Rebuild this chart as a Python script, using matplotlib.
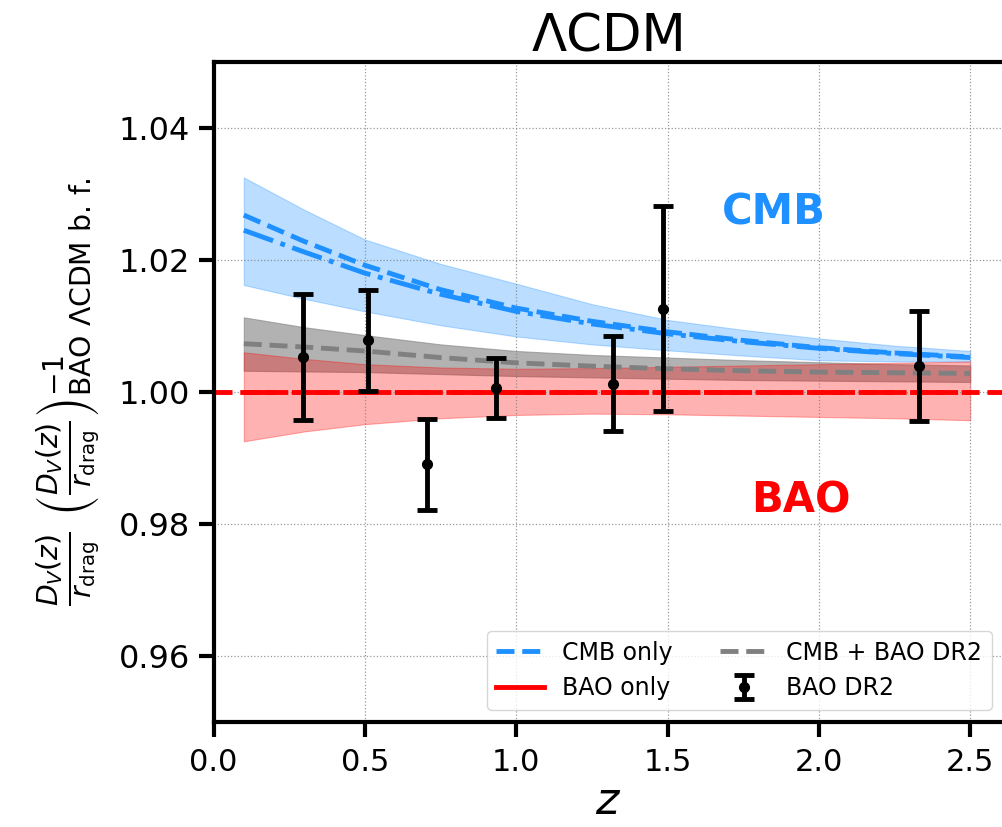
import matplotlib
matplotlib.use('Agg')
import matplotlib.pyplot as plt
from matplotlib.lines import Line2D

# 곡선 샘플 위치 (z)
z_grid = [0.1, 0.3, 0.5, 0.75, 1.0, 1.25, 1.5, 1.75, 2.0, 2.25, 2.5]

# CMB only
cmb_dash = [1.0268, 1.0228, 1.0192, 1.0155, 1.0127, 1.0107, 1.0091, 1.0078, 1.0067, 1.0059, 1.0053]
cmb_dashdot = [1.0245, 1.0212, 1.0180, 1.0148, 1.0122, 1.0103, 1.0088, 1.0076, 1.0066, 1.0058, 1.0052]
cmb_hi = [1.0325, 1.0276, 1.0231, 1.0194, 1.0164, 1.0133, 1.0109, 1.0094, 1.0081, 1.0070, 1.0062]
cmb_lo = [1.0162, 1.0141, 1.0122, 1.0101, 1.0084, 1.0072, 1.0063, 1.0055, 1.0048, 1.0046, 1.0046]

# CMB + BAO DR2
comb_mid = [1.0073, 1.0068, 1.0062, 1.0052, 1.0044, 1.0039, 1.0035, 1.0032, 1.0030, 1.0029, 1.0028]
comb_hi = [1.0113, 1.0098, 1.0086, 1.0072, 1.0062, 1.0056, 1.0052, 1.0048, 1.0045, 1.0042, 1.0040]
comb_lo = [1.0032, 1.0031, 1.0030, 1.0027, 1.0024, 1.0022, 1.0020, 1.0018, 1.0017, 1.0016, 1.0015]

# BAO only
bao_mid = [1.0000, 1.0000, 1.0000, 1.0000, 1.0000, 1.0000, 1.0000, 1.0000, 1.0000, 1.0000, 1.0000]
bao_hi = [1.0060, 1.0050, 1.0042, 1.0037, 1.0035, 1.0036, 1.0038, 1.0040, 1.0042, 1.0044, 1.0046]
bao_lo = [0.9925, 0.9940, 0.9951, 0.9960, 0.9965, 0.9967, 0.9966, 0.9964, 0.9962, 0.9960, 0.9957]

# BAO DR2 데이터 포인트
z_data = [0.295, 0.510, 0.706, 0.934, 1.321, 1.484, 2.330]
y_data = [1.0053, 1.0078, 0.9890, 1.0006, 1.0012, 1.0126, 1.0039]
y_err = [0.0096, 0.0076, 0.0069, 0.0045, 0.0072, 0.0155, 0.0083]

blue = 'dodgerblue'

fig = plt.figure(figsize=(10.02, 8.27), dpi=100)
ax = fig.add_axes([0.2131, 0.1273, 0.7884, 0.7977])

# 밴드
ax.fill_between(z_grid, cmb_lo, cmb_hi, color=blue, alpha=0.3, lw=0.8)
ax.fill_between(z_grid, comb_lo, comb_hi, color='gray', alpha=0.6, lw=0.8)
ax.fill_between(z_grid, bao_lo, bao_hi, color='red', alpha=0.3, lw=0.8)

# 곡선
ax.plot(z_grid, cmb_dash, color=blue, ls='--', lw=3.5)
ax.plot(z_grid, cmb_dashdot, color=blue, ls='-.', lw=3.5)
ax.plot(z_grid, comb_mid, color='gray', ls='--', lw=3.5)
ax.axhline(1.0, color='red', ls='--', lw=3.5)
ax.plot(z_grid, bao_mid, color='red', ls='-.', lw=3.5)

# 데이터
eb = ax.errorbar(z_data, y_data, yerr=y_err, fmt='o', color='black', ms=7,
                 elinewidth=3.5, capsize=7, capthick=3.5, zorder=5)

ax.text(1.85, 1.0272, 'CMB', color=blue, fontsize=30, fontweight='bold',
        ha='center', va='center')
ax.text(1.94, 0.9835, 'BAO', color='red', fontsize=30, fontweight='bold',
        ha='center', va='center')

ax.set_xlim(0, 2.61)
ax.set_ylim(0.95, 1.05)
ax.set_xticks([0.0, 0.5, 1.0, 1.5, 2.0, 2.5])
ax.set_yticks([0.96, 0.98, 1.00, 1.02, 1.04])
ax.grid(True, ls=':', color='gray', lw=0.9, alpha=0.8)
ax.tick_params(axis='both', length=11, width=3, direction='out')
ax.tick_params(axis='x', labelsize=22, pad=8)
ax.tick_params(axis='y', labelsize=23, pad=6)
for s in ax.spines.values():
    s.set_linewidth(3)
ax.spines['right'].set_visible(False)

ax.set_title('ΛCDM', fontsize=37, pad=6)
ax.set_xlabel(r'$z$', fontsize=32, labelpad=2)
ax.set_ylabel(r'$\frac{D_V(z)}{r_{\rm drag}}\ \left(\frac{D_V(z)}{r_{\rm drag}}\right)^{-1}_{\rm BAO\ \Lambda CDM\ b.\,f.}$',
              fontsize=29, labelpad=12)

handles = [Line2D([], [], color=blue, ls='--', lw=3.5),
           Line2D([], [], color='red', ls='-', lw=3.5),
           Line2D([], [], color='gray', ls='--', lw=3.5),
           eb]
labels = ['CMB only', 'BAO only', 'CMB + BAO DR2', 'BAO DR2']
ax.legend(handles, labels, loc='lower right', ncol=2, fontsize=17)

fig.savefig('out.png', dpi=100)
